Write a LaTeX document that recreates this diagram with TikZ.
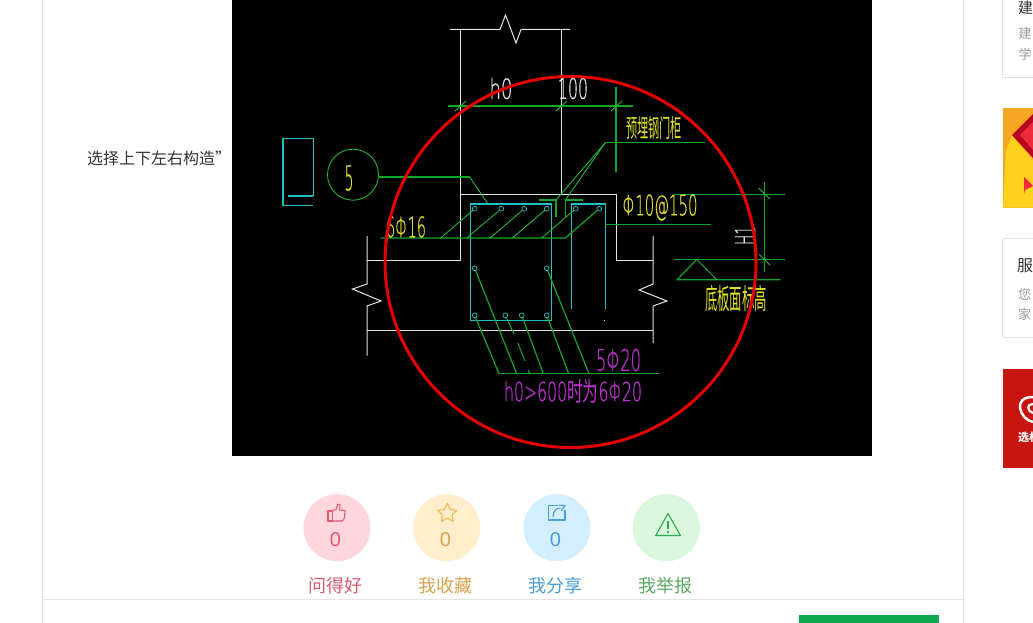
\documentclass[tikz,border=0pt]{standalone}
\usepackage{fontspec}
\setmainfont{Noto Sans CJK SC}
\newfontfamily\cad[FakeBold=0.6]{DejaVu Sans ExtraLight}
\newfontfamily\numfont{Liberation Sans}
\usetikzlibrary{calc}
\definecolor{cadgreen}{HTML}{0FA824}
\definecolor{cadlime}{HTML}{1FC838}
\definecolor{cadcyan}{HTML}{22C0C4}
\definecolor{cadwhite}{HTML}{E4E4E4}
\definecolor{cadyellow}{HTML}{E0E028}
\definecolor{cadmag}{HTML}{C030D0}
\definecolor{redc}{HTML}{E60000}
\definecolor{pagegrey}{HTML}{E4E4E4}
\definecolor{cardgrey}{HTML}{E2E2E2}
\definecolor{txtdark}{HTML}{333333}
\definecolor{txtgrey}{HTML}{999999}
\definecolor{btngreen}{HTML}{0DA84F}
\definecolor{pinkc}{HTML}{FFD6DD}\definecolor{pinkt}{HTML}{DB5A70}
\definecolor{orc}{HTML}{FFEDCB}\definecolor{ort}{HTML}{D9A34E}
\definecolor{bluc}{HTML}{D3EFFF}\definecolor{blut}{HTML}{4C9CD8}
\definecolor{grc}{HTML}{DAF7DD}\definecolor{grt}{HTML}{5BA862}
\definecolor{stare}{HTML}{F0B850}
\definecolor{warnc}{HTML}{2FA84F}
\definecolor{adorange}{HTML}{F5A623}
\definecolor{adyellow}{HTML}{FFD21E}
\definecolor{addark}{HTML}{B8001E}
\definecolor{adred}{HTML}{EE2A3C}
\definecolor{adcard}{HTML}{C8140F}
\tikzset{
  x=1pt,y=-1pt,
  wline/.style={draw=cadwhite,line width=1pt},
  gline/.style={draw=cadgreen,line width=1.2pt},
  gthin/.style={draw=cadlime,line width=0.8pt},
  cline/.style={draw=cadcyan,line width=1.2pt},
  rebar/.style={draw=cadcyan,line width=0.7pt},
  cadtxt/.style={inner sep=0pt,anchor=center},
  badge/.style={circle,minimum size=67pt,inner sep=0pt},
  num/.style={inner sep=0pt,font=\fontsize{20}{20}\selectfont\numfont},
  act/.style={inner sep=0pt,font=\fontsize{18}{18}\selectfont},
  sub/.style={inner sep=0pt,anchor=west,text=txtgrey,font=\fontsize{13}{13}\selectfont},
}
\begin{document}
\begin{tikzpicture}
\useasboundingbox (0,0) rectangle (1033,623);
\clip (0,0) rectangle (1033,623);
\fill[white] (0,0) rectangle (1033,623);
% page frame
\draw[pagegrey,line width=0.9pt] (42.5,0) -- (42.5,623) (963.5,0) -- (963.5,623) (42.5,599.5) -- (963.5,599.5);
\fill[btngreen] (799,615) rectangle (939,623);
% text at left
\node[inner sep=0pt,anchor=west,text=txtdark,font=\fontsize{16}{16}\selectfont] (lefttxt) at (87,158) {选择上下左右构造”};
% black panel
\fill[black] (232,0) rectangle (872,456);
% concrete outline
\draw[wline] (450,29.5) -- (500,29.5) -- (505.5,15) -- (516,43) -- (521,29.5) -- (570,29.5);
\draw[wline] (460,29.5) -- (460,260.5) -- (367,260.5);
\draw[wline] (561,29.5) -- (561,194);
\draw[wline] (460,194.3) -- (616,194.3) -- (616,260.5) -- (653,260.5);
\draw[wline] (367,236) -- (367,284) -- (352.5,289) -- (381,301) -- (367,306) -- (367,355.5);
\draw[wline] (653,236) -- (653,284) -- (639,290) -- (667,301) -- (653,306) -- (653,343);
\draw[wline] (367,330) -- (653,330);
\fill[cadwhite] (604,320.2) rectangle (605,321.2);
% cyan section symbol
\draw[cline] (313.3,196) -- (313.3,138.7) -- (283,138.7) -- (283,205.3) -- (312.5,205.3);
\draw[cline] (288,196) -- (313.3,196);
% stirrups
\draw[cline] (470.3,204) rectangle (551.3,320.3);
\draw[cline] (571.3,309) -- (571.3,204) -- (605.3,204) -- (605.3,309);
% dimension lines
\draw[gline] (448,106) -- (632.7,106);
\draw[gthin] (455,111) -- (466,101);
\draw[gthin] (556,111) -- (567,101);
\draw[gthin] (611,111) -- (622,101);
\draw[gline] (616,87) -- (616,172);
\draw[gline] (674,194.7) -- (785.3,194.7);
\draw[gline] (674,259.3) -- (785.3,259.3);
\draw[gline] (764.3,181.7) -- (764.3,271.7);
\draw[gthin] (758.7,188) -- (769.7,199);
\draw[gthin] (759,254.3) -- (770,265);
% level mark
\draw[gline] (696.7,259.3) -- (677.3,279.7) -- (780.7,279.7);
\draw[gthin] (696.7,259.3) -- (716.7,279.7);
% circle 5 and its leader
\node[circle,draw=cadlime,line width=0.8pt,minimum size=51pt,inner sep=0pt] (detail) at (353,174.7) {};
\draw[gline] (detail.east |- 0,177) -- (469.7,177);
\draw[gthin] (469.7,177) -- (488,204);
% door post leader
\draw[gline] (704.7,142.7) -- (605.3,142.7);
\draw[gthin] (605.3,142.7) -- (556,200);
\draw[gthin] (605.3,142.7) -- (565.3,200);
\draw[gline] (539,200) -- (556,200) (565.3,200) -- (582.7,200);
\draw[gline] (556,200) -- (556,216.7) (565.3,200) -- (565.3,216.7);
% top bars leader
\draw[gline] (380.7,238) -- (565.3,238) -- (599.3,208.7);
\foreach \a/\b in {440.7/474.7,466.7/501.3,490/524.3,512.3/546.7,541.7/575.7}
  \draw[gthin] (\a,238) -- (\b,208.7);
\draw[gline] (605.3,224.3) -- (711,224.3);
% bottom bars leader
\draw[gline] (499,373.7) -- (659.3,373.7);
\draw[gline] (474.7,315.3) -- (499,373.7);
\draw[gline] (474.7,268.3) -- (516.7,373.7);
\draw[gthin] (505.3,315.3) -- (514,334) (517.7,342.7) -- (525,361) (528,370) -- (530,373.7);
\draw[gline] (521.7,315.3) -- (543.3,373.7);
\draw[gline] (546.7,315.3) -- (568.7,373.7);
\draw[gline] (546.7,268.3) -- (589,373.7);
% rebars
\foreach \p in {474.7,501.3,524.3,546.7,575.7,599.3}
  \draw[rebar,fill=black] (\p,208.7) circle[radius=2.4];
\foreach \p in {474.7,546.7}
  \draw[rebar,fill=black] (\p,268.3) circle[radius=2.4];
\foreach \p in {474.7,505.3,521.7,546.7}
  \draw[rebar,fill=black] (\p,315.3) circle[radius=2.4];
% CAD labels
\node[cadtxt,text=cadwhite] (lh) at (501,88.5) {\resizebox{23pt}{21pt}{\cad h0}};
\node[cadtxt,text=cadwhite] (lc) at (573,88.5) {\resizebox{30pt}{21pt}{\cad 100}};
\node[cadtxt,text=cadyellow] (lfive) at (349,178) {\resizebox{9pt}{25pt}{\cad 5}};
\node[cadtxt,text=cadyellow] (lpost) at (654,127.5) {\resizebox{56pt}{21pt}{预埋钢门柜}};
\node[cadtxt,text=cadyellow] (lstir) at (660,207.5) {\resizebox{75pt}{21pt}{\cad Φ10@150}};
\node[cadtxt,text=cadyellow] (ltop) at (406,227) {\resizebox{40pt}{21pt}{\cad 6Φ16}};
\node[cadtxt,text=cadyellow] (llevel) at (736,299) {\resizebox{62pt}{24pt}{底板面标高}};
\node[cadtxt,text=cadwhite,rotate=90] (lh1) at (745,235.5) {\resizebox{19pt}{20pt}{\cad H1}};
\node[cadtxt,text=cadmag] (lbot) at (618.5,360) {\resizebox{45pt}{22pt}{\cad 5Φ20}};
\node[cadtxt,text=cadmag] (lmore) at (573,391) {\resizebox{138pt}{22pt}{\cad h0>600\rmfamily 时为\cad 6Φ20}};
% red circle
\draw[redc,line width=3pt] (570.5,262) circle[radius=185.5];
% action badges
\node[badge,fill=pinkc] (b1) at (337,527.7) {};
\node[badge,fill=orc] (b2) at (446.7,527.7) {};
\node[badge,fill=bluc] (b3) at (557,527.7) {};
\node[badge,fill=grc] (b4) at (666.3,527.7) {};
\node[num,text=pinkt] at (335.5,539.5) {0};
\node[num,text=ort] at (445.5,540) {0};
\node[num,text=blut] at (555.5,540) {0};
\node[act,text=pinkt] at (335,586) {问得好};
\node[act,text=ort] at (445,586) {我收藏};
\node[act,text=blut] at (555,586) {我分享};
\node[act,text=grt] at (665,586) {我举报};
% icons
\draw[pinkt,line width=1.1pt,line join=round] (328,511) rectangle (332.5,521);
\draw[pinkt,line width=1.1pt,line join=round] (332.5,511) -- (336.5,509) -- (337.5,504.2) -- (340,505) -- (339.7,510) -- (345,510.5) -- (344.5,518) -- (342.5,521) -- (332.5,521);
\draw[stare,line width=1.1pt,line join=round]
  (447.3,503.5) -- (450.2,509.5) -- (456.8,510.3) -- (452,514.8) -- (453.2,521.5) -- (447.3,518.2) -- (441.4,521.5) -- (442.6,514.8) -- (437.8,510.3) -- (444.4,509.5) -- cycle;
\draw[blut,line width=1.1pt,line join=round] (558,505.2) -- (548.5,505.2) -- (548.5,520) -- (565,520) -- (565,510);
\draw[blut,line width=1.1pt] (553,517) .. controls (553,511) and (556,508.5) .. (560,508) (559,505) -- (565,505.5) -- (561.5,511);
\draw[warnc,line width=1.1pt,line join=round] (668,513.5) -- (680.5,535.5) -- (655.7,535.5) -- cycle;
\draw[warnc,line width=1.3pt] (668,520.5) -- (668,529) (668,531) -- (668,532.8);
% sidebar
\draw[cardgrey,line width=0.8pt] (1002.5,-2) -- (1002.5,77.5) -- (1040,77.5);
\node[inner sep=0pt,anchor=west,text=txtdark,font=\fontsize{15}{15}\selectfont] (c1) at (1018,8) {建};
\node[sub] (c1a) at (1018.5,34) {建};
\node[sub] (c1b) at (1018.5,54) {学};
\fill[adorange] (1003,108) rectangle (1033,207.5);
\fill[adyellow] (1003,207.5) -- (1006,150) -- (1012,136) -- (1033,160) -- (1033,207.5) -- cycle;
\fill[addark] (1012,135) -- (1033,114) -- (1033,158) -- cycle;
\fill[adred] (1020,135) -- (1033,122) -- (1033,150) -- cycle;
\fill[adred] (1024,177) -- (1033,186) -- (1025,190) -- (1024,194) -- cycle;
\draw[cardgrey,line width=0.8pt,rounded corners=2pt] (1040,238.5) -- (1002.5,238.5) -- (1002.5,337.5) -- (1040,337.5);
\node[inner sep=0pt,anchor=west,text=txtdark,font=\fontsize{16}{16}\selectfont] (c3) at (1017,266) {服};
\node[sub] (c3a) at (1018,294) {您};
\node[sub] (c3b) at (1018,314) {家};
\fill[adcard] (1003,369) rectangle (1033,467.5);
\draw[white,line width=2.5pt] (1033,397) .. controls (1023,397) and (1019,402) .. (1020,408) .. controls (1021,415) and (1027,421) .. (1033,422);
\draw[white,line width=2.2pt] (1033,404) .. controls (1027,404) and (1026,410) .. (1033,413);
\node[inner sep=0pt,anchor=west,text=white,font=\fontsize{11}{11}\selectfont\bfseries] (c4) at (1018,437) {选材};
\end{tikzpicture}
\end{document}
